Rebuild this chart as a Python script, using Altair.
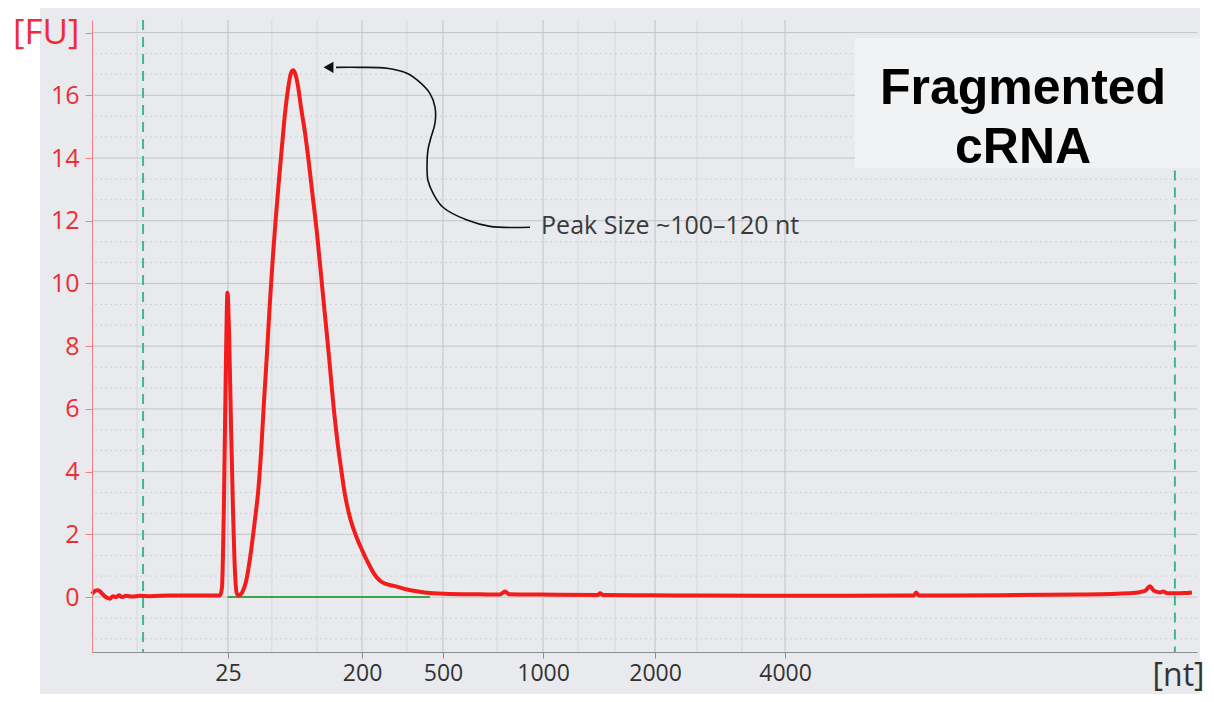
import altair as alt
import pandas as pd

# ---- data (migration time in s, fluorescence in FU) ----
TIME_S = [20.00, 20.14, 20.27, 20.41, 20.54, 20.68, 20.81, 20.95, 21.09, 21.22,
          21.36, 21.54, 21.81, 22.17, 22.62, 23.53, 24.89, 25.79, 25.88, 25.97,
          26.06, 26.13, 26.20, 26.29, 26.38, 26.47, 26.56, 26.65, 26.74, 26.83,
          26.97, 27.10, 27.24, 27.38, 27.51, 27.65, 27.78, 27.92, 28.05, 28.19,
          28.33, 28.46, 28.60, 28.73, 28.87, 29.00, 29.10, 29.19, 29.32, 29.46,
          29.64, 29.82, 30.00, 30.18, 30.36, 30.54, 30.72, 30.90, 31.09, 31.27,
          31.45, 31.67, 31.95, 32.22, 32.49, 32.76, 33.03, 33.30, 33.71, 34.16,
          34.75, 35.29, 36.20, 37.56, 38.46, 38.69, 38.87, 40.27, 42.90, 42.99,
          43.12, 45.25, 47.51, 52.04, 56.56, 57.19, 57.29, 57.42, 61.09, 64.71,
          66.97, 67.65, 67.87, 68.05, 68.33, 68.46, 68.69, 69.00, 69.46, 69.77]
FU = [0.10, 0.20, 0.22, 0.15, 0.05, -0.02, -0.05, 0.03, 0.00, 0.06,
      0.00, 0.04, 0.02, 0.04, 0.03, 0.05, 0.05, 0.05, 0.30, 3.00,
      7.50, 9.70, 8.50, 5.50, 2.80, 0.80, 0.10, 0.05, 0.10, 0.20,
      0.50, 1.00, 1.70, 2.50, 3.30, 4.60, 6.20, 7.80, 9.40, 10.90,
      12.20, 13.30, 14.40, 15.40, 16.20, 16.70, 16.80, 16.70, 16.30, 15.60,
      14.80, 13.80, 12.70, 11.60, 10.30, 9.00, 7.70, 6.30, 5.05, 4.10,
      3.25, 2.55, 1.95, 1.50, 1.10, 0.75, 0.52, 0.42, 0.35, 0.26,
      0.18, 0.13, 0.10, 0.09, 0.08, 0.18, 0.09, 0.08, 0.07, 0.12,
      0.07, 0.06, 0.05, 0.04, 0.05, 0.05, 0.15, 0.05, 0.06, 0.08,
      0.12, 0.20, 0.35, 0.20, 0.15, 0.18, 0.12, 0.12, 0.13, 0.15]

X_TICKS = [26.15, 32.22, 35.88, 40.41, 45.48, 51.36]
X_LABELS = ["25", "200", "500", "1000", "2000", "4000"]
X_MINOR = [22.04, 24.07, 28.14, 30.18, 34.25, 38.33, 41.99, 43.67, 47.38, 49.41]
Y_TICKS = [0, 2, 4, 6, 8, 10, 12, 14, 16, 18]
Y_MINOR = [-1.33, -0.67, 0.67, 1.33, 2.67, 3.33, 4.67, 5.33, 6.67, 7.33, 8.67, 9.33,
           10.67, 11.33, 12.67, 13.33, 14.67, 15.33, 16.67, 17.33]

MARKER_T = [22.31, 69.00]
MARKER_TOP = [18.4, 13.6]
BASELINE_T = [26.13, 35.29]

ARROW_T = [39.82, 38.01, 36.97, 35.88, 35.43, 35.20, 35.16, 35.20, 35.34, 35.52,
           35.52, 35.29, 34.84, 34.25, 33.35, 32.13, 31.04]
ARROW_V = [11.79, 11.82, 12.02, 12.43, 12.88, 13.29, 13.71, 14.25, 14.66, 15.11,
           15.62, 16.06, 16.41, 16.70, 16.86, 16.89, 16.89]
ARROW_HEAD = (30.70, 16.89)

PEAK_TEXT = "Peak Size ~100\u2013120 nt"
PEAK_POS = (40.32, 11.82)
TITLE_TEXT = "Fragmented\ncRNA"
TITLE_POS = (62.13, 16.19)
TITLE_BOX = (54.52, 70.14, 17.82, 13.67)

X_DOMAIN = [20, 70]
Y_DOMAIN = [-1.75, 18.4]
W, H = 1105, 632

xs = alt.Scale(domain=X_DOMAIN, nice=False, zero=False)
ys = alt.Scale(domain=Y_DOMAIN, nice=False, zero=False)

label_expr = " : ".join(
    f"datum.value == {t} ? '{l}'" for t, l in zip(X_TICKS, X_LABELS)) + " : ''"

x_axis = alt.Axis(values=X_TICKS, labelExpr=label_expr, grid=False, zindex=1,
                  domainColor="#8a8d92", tickColor="#8a8d92", tickSize=6,
                  labelColor="#333333", labelFontSize=23, labelFont="Open Sans",
                  labelPadding=4, labelFlush=False, labelOverlap=False,
                  title="[nt]", titleX=1112, titleY=33, titleAlign="right",
                  titleBaseline="alphabetic", titleFontSize=32,
                  titleFontWeight="normal", titleColor="#333333",
                  titleFont="Open Sans")
y_axis = alt.Axis(values=Y_TICKS, zindex=1,
                  labelExpr="datum.value == 18 ? '[FU]' : datum.label",
                  labelFontSize={"condition": {"test": "datum.value == 18", "value": 35},
                                 "value": 25},
                  grid=False, labelColor="#ee2d37", labelFont="Open Sans",
                  domainColor="#f28080", tickColor="#f28080", tickSize=7,
                  labelPadding=6, title=None)


def X(field):
    return alt.X(field, scale=xs, axis=x_axis)


def Y(field):
    return alt.Y(field, scale=ys, axis=y_axis)


curve_df = pd.DataFrame({"t": TIME_S, "fu": FU})

# background panel (extends outside the plot like the screenshot)
panel = alt.Chart(pd.DataFrame({"a": [0]})).mark_rect(color="#e8eaed").encode(
    x=alt.value(-52), x2=alt.value(W + 3), y=alt.value(-20), y2=alt.value(H + 60))

ygrid_minor = alt.Chart(pd.DataFrame({"v": Y_MINOR})).mark_rule(
    color="#cdd0d5", strokeWidth=1, strokeDash=[2, 3]).encode(y=Y("v:Q"))
xgrid_minor = alt.Chart(pd.DataFrame({"t": X_MINOR})).mark_rule(
    color="#d6d9dd", strokeWidth=1).encode(x=X("t:Q"))
ygrid = alt.Chart(pd.DataFrame({"v": Y_TICKS})).mark_rule(
    color="#c2c5ca", strokeWidth=1).encode(y=Y("v:Q"))
xgrid = alt.Chart(pd.DataFrame({"t": X_TICKS})).mark_rule(
    color="#bfc3c8", strokeWidth=1).encode(x=X("t:Q"))

box = alt.Chart(pd.DataFrame({"x1": [TITLE_BOX[0]], "x2": [TITLE_BOX[1]],
                              "y1": [TITLE_BOX[2]], "y2": [TITLE_BOX[3]]})).mark_rect(
    color="#f1f2f4").encode(x=X("x1:Q"), x2="x2:Q", y=Y("y1:Q"), y2="y2:Q")

baseline = alt.Chart(pd.DataFrame({"t": [BASELINE_T[0]], "t2": [BASELINE_T[1]],
                                   "v": [0]})).mark_rule(
    color="#3aa64a", strokeWidth=2).encode(x=X("t:Q"), x2="t2:Q", y=Y("v:Q"))

markers = alt.Chart(pd.DataFrame({"t": MARKER_T, "top": MARKER_TOP,
                                  "bot": [Y_DOMAIN[0]] * 2})).mark_rule(
    color="#3fb98c", strokeWidth=2, strokeDash=[10, 7]).encode(
    x=X("t:Q"), y=Y("top:Q"), y2="bot:Q")

curve = alt.Chart(curve_df).mark_line(
    color="#f21c1c", strokeWidth=4, strokeJoin="round",
    interpolate="monotone").encode(x=X("t:Q"), y=Y("fu:Q"))

arrow_df = pd.DataFrame({"t": ARROW_T, "v": ARROW_V, "i": list(range(len(ARROW_T)))})
arrow = alt.Chart(arrow_df).mark_line(
    color="#111111", strokeWidth=1.6, interpolate="catmull-rom").encode(
    x=X("t:Q"), y=Y("v:Q"), order="i:Q")
head = alt.Chart(pd.DataFrame({"t": [ARROW_HEAD[0]], "v": [ARROW_HEAD[1]]})).mark_point(
    shape="triangle-left", filled=True, size=130, color="#111111", opacity=1).encode(
    x=X("t:Q"), y=Y("v:Q"))

peak_text = alt.Chart(pd.DataFrame({"t": [PEAK_POS[0]], "v": [PEAK_POS[1]],
                                    "s": [PEAK_TEXT]})).mark_text(
    align="left", baseline="middle", font="Open Sans", fontSize=25,
    color="#3a3a3a").encode(x=X("t:Q"), y=Y("v:Q"), text="s:N")

title = alt.Chart(pd.DataFrame({"t": [TITLE_POS[0]], "v": [TITLE_POS[1]],
                                "s": [TITLE_TEXT]})).mark_text(
    align="center", baseline="middle", font="Liberation Sans", fontWeight="bold",
    fontSize=50, lineBreak="\n", lineHeight=59, color="#000000").encode(
    x=X("t:Q"), y=Y("v:Q"), text="s:N")

chart = alt.layer(panel, ygrid_minor, xgrid_minor, ygrid, xgrid, box, baseline,
                  markers, curve, arrow, head, peak_text, title).properties(
    width=W, height=H,
    autosize=alt.AutoSizeParams(type="none"),
    padding={"left": 84, "top": 12, "right": 9, "bottom": 42},
    background="white",
).configure_view(stroke=None)

chart.save("out.html", embed_options={"renderer": "svg", "actions": False})
